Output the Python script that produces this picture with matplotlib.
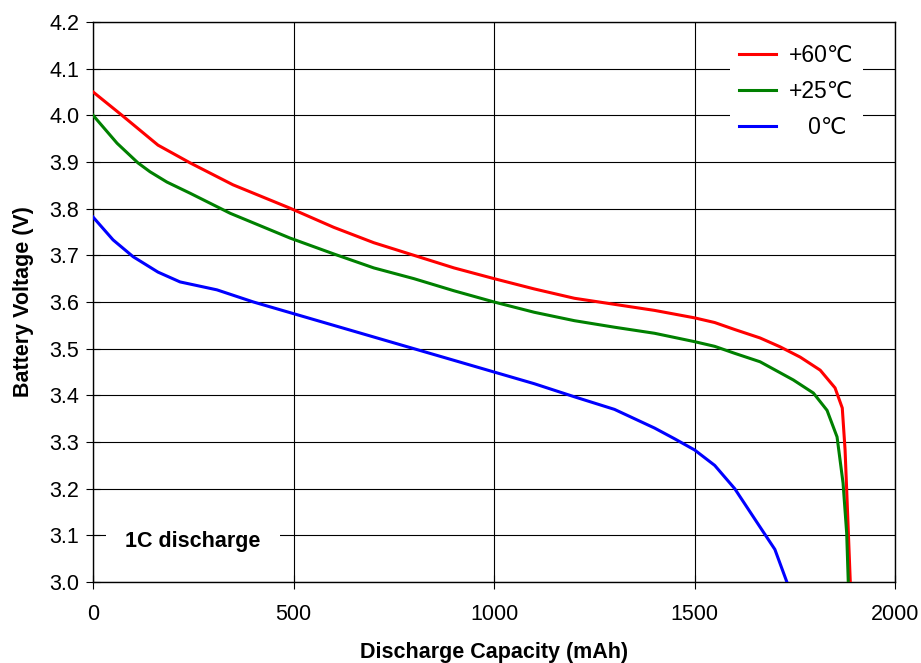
import matplotlib
matplotlib.use("Agg")
import matplotlib.pyplot as plt

# ── Data ─────────────────────────────────────────────────────────────────────
cap_60 = [0, 72, 162, 242, 349, 491, 600, 700, 800, 900, 1000, 1100, 1200,
          1300, 1400, 1500, 1550, 1600, 1663, 1713, 1763, 1813, 1850, 1868,
          1875, 1880, 1888]
v_60 = [4.05, 4.00, 3.936, 3.898, 3.851, 3.801, 3.76, 3.727, 3.70, 3.673,
        3.65, 3.628, 3.608, 3.595, 3.582, 3.566, 3.556, 3.541, 3.523, 3.504,
        3.482, 3.454, 3.416, 3.373, 3.283, 3.176, 3.0]

cap_25 = [0, 60, 112, 142, 184, 242, 342, 491, 600, 700, 800, 900, 1000,
          1100, 1200, 1300, 1400, 1500, 1550, 1600, 1663, 1746, 1796, 1830,
          1855, 1870, 1879, 1883]
v_25 = [4.00, 3.94, 3.898, 3.879, 3.857, 3.833, 3.79, 3.737, 3.703, 3.673,
        3.65, 3.624, 3.60, 3.578, 3.56, 3.546, 3.533, 3.515, 3.505, 3.49,
        3.472, 3.433, 3.405, 3.368, 3.311, 3.212, 3.105, 3.0]

cap_0 = [0, 50, 100, 162, 217, 309, 400, 500, 600, 700, 800, 900, 1000,
         1100, 1200, 1300, 1400, 1450, 1500, 1550, 1600, 1663, 1700, 1730]
v_0 = [3.782, 3.733, 3.697, 3.664, 3.643, 3.626, 3.60, 3.575, 3.55, 3.525,
       3.50, 3.475, 3.45, 3.425, 3.397, 3.37, 3.33, 3.307, 3.283, 3.25, 3.20,
       3.118, 3.07, 3.0]

labels = ["+60\u2103", "+25\u2103", "   0\u2103"]
colors = ["#ff0000", "#008000", "#0000ff"]

x_ticks = [0, 500, 1000, 1500, 2000]
y_ticks = [3.0, 3.1, 3.2, 3.3, 3.4, 3.5, 3.6, 3.7, 3.8, 3.9, 4.0, 4.1, 4.2]

plt.rcParams['font.family'] = ['Liberation Sans', 'DejaVu Sans']

fig = plt.figure(figsize=(9.21, 6.63), dpi=100)
ax = fig.add_axes([0.101, 0.122, 0.871, 0.845])

for cap, v, lab, c in zip([cap_60, cap_25, cap_0], [v_60, v_25, v_0], labels, colors):
    ax.plot(cap, v, color=c, linewidth=2.2, label=lab, zorder=3)

ax.set_xlim(0, 2000)
ax.set_ylim(3.0, 4.2)
ax.set_xticks(x_ticks)
ax.set_yticks(y_ticks)
ax.set_yticklabels([f"{t:.1f}" for t in y_ticks])
ax.grid(True, color="black", linewidth=0.8)
ax.set_axisbelow(True)
ax.tick_params(direction="inout", length=10, width=0.8, labelsize=15.5)
ax.tick_params(axis="x", pad=11)
ax.tick_params(axis="y", pad=5)
for s in ax.spines.values():
    s.set_linewidth(1.0)

ax.set_xlabel("Discharge Capacity (mAh)", fontsize=15.5, fontweight="bold", labelpad=12)
ax.set_ylabel("Battery Voltage (V)", fontsize=15.5, fontweight="bold", labelpad=11)

leg = ax.legend(loc="upper right", bbox_to_anchor=(0.960, 0.976), fontsize=16.5,
                frameon=True, fancybox=False, framealpha=1, handlelength=1.6,
                handletextpad=0.6, labelspacing=0.55, borderpad=0.4,
                borderaxespad=0)
leg.get_frame().set_edgecolor("none")
leg.get_frame().set_facecolor("white")
leg.set_zorder(5)

ax.text(0.04, 0.073, "1C discharge", transform=ax.transAxes, fontsize=15.5,
        fontweight="bold", va="center", ha="left", zorder=5,
        bbox=dict(facecolor="white", edgecolor="none", pad=14))

fig.savefig("out.png", dpi=100)
